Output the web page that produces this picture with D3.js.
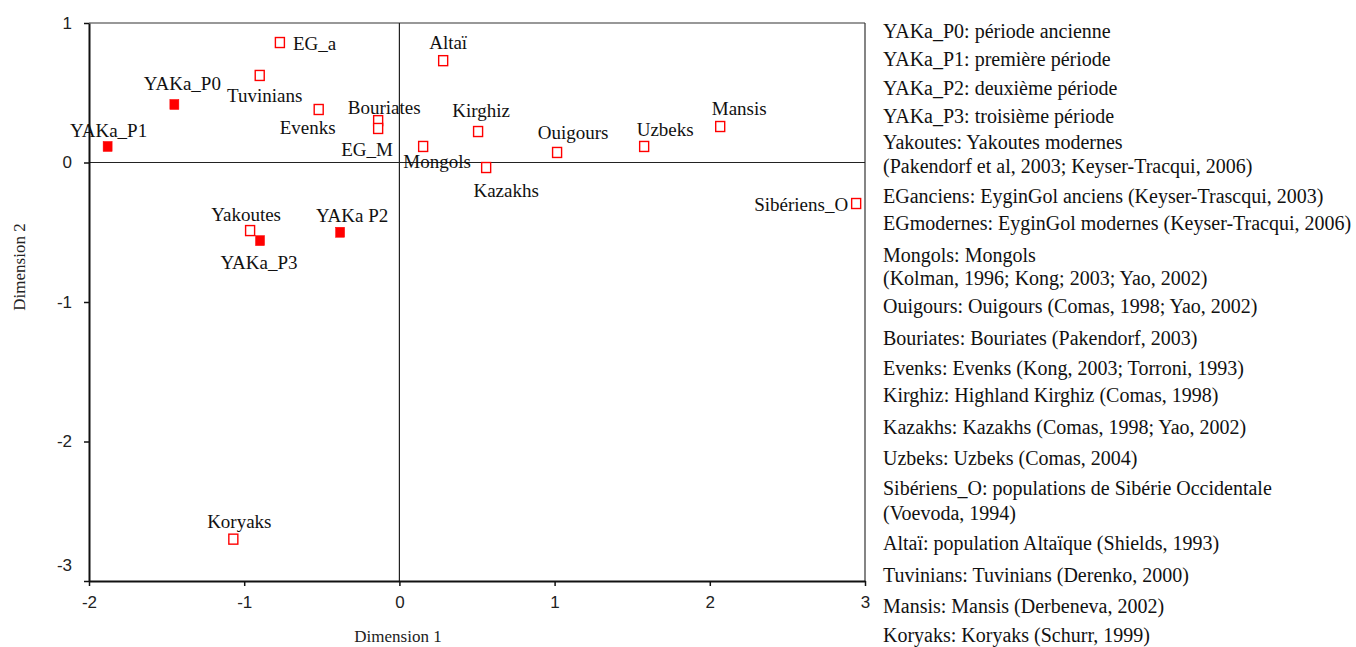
<!DOCTYPE html>
<html>
<head>
<meta charset="utf-8">
<script src="https://cdn.jsdelivr.net/npm/d3@7"></script>
<style>
  html, body { margin: 0; padding: 0; background: #ffffff; }
  svg { display: block; }
</style>
</head>
<body>
<svg id="chart" width="1356" height="647"></svg>
<script>
// ---- data ----
const names = ["EG_a","Tuvinians","YAKa_P0","YAKa_P1","Evenks","Bouriates","EG_M","Mongols",
  "Yakoutes","YAKa_P3","YAKa_P2","Altaï","Kirghiz","Kazakhs","Ouigours","Uzbeks","Mansis","Sibériens_O","Koryaks"];
const labels = ["EG_a","Tuvinians","YAKa_P0","YAKa_P1","Evenks","Bouriates","EG_M","Mongols",
  "Yakoutes","YAKa_P3","YAKa P2","Altaï","Kirghiz","Kazakhs","Ouigours","Uzbeks","Mansis","Sibériens_O","Koryaks"];
const dim1 = [-0.77,-0.90,-1.45,-1.88,-0.52,-0.137,-0.137,0.153,-0.962,-0.898,-0.382,0.282,0.507,0.559,1.016,1.577,2.067,2.943,-1.07];
const dim2 = [0.86,0.624,0.416,0.115,0.38,0.30,0.244,0.115,-0.488,-0.56,-0.50,0.73,0.222,-0.036,0.072,0.115,0.258,-0.294,-2.70];
const ancient = [false,false,true,true,false,false,false,false,false,true,true,false,false,false,false,false,false,false,false];
const xTicks = [-2,-1,0,1,2,3];
const yTicks = [-3,-2,-1,0,1];
const legendLines = [
  "YAKa_P0: période ancienne",
  "YAKa_P1: première période",
  "YAKa_P2: deuxième période",
  "YAKa_P3: troisième période",
  "Yakoutes: Yakoutes modernes",
  "(Pakendorf et al, 2003; Keyser-Tracqui, 2006)",
  "EGanciens: EyginGol anciens (Keyser-Trascqui, 2003)",
  "EGmodernes: EyginGol modernes (Keyser-Tracqui, 2006)",
  "Mongols: Mongols",
  "(Kolman, 1996; Kong; 2003; Yao, 2002)",
  "Ouigours: Ouigours (Comas, 1998; Yao, 2002)",
  "Bouriates: Bouriates (Pakendorf, 2003)",
  "Evenks: Evenks (Kong, 2003; Torroni, 1993)",
  "Kirghiz: Highland Kirghiz (Comas, 1998)",
  "Kazakhs: Kazakhs (Comas, 1998; Yao, 2002)",
  "Uzbeks: Uzbeks (Comas, 2004)",
  "Sibériens_O: populations de Sibérie Occidentale",
  "(Voevoda, 1994)",
  "Altaï: population Altaïque (Shields, 1993)",
  "Tuvinians: Tuvinians (Derenko, 2000)",
  "Mansis: Mansis (Derbeneva, 2002)",
  "Koryaks: Koryaks (Schurr, 1999)"
];

// ---- layout (not data) ----
const labelOffset = { // dx, dy, anchor
  "EG_a":[13,1,"start"], "Tuvinians":[5,20,"middle"], "YAKa_P0":[8,-21,"middle"], "YAKa_P1":[1,-16,"middle"],
  "Evenks":[-11,18,"middle"], "Bouriates":[6,-13,"middle"], "EG_M":[-11,21,"middle"], "Mongols":[14,15,"middle"],
  "Yakoutes":[-4,-16,"middle"], "YAKa_P3":[-1,22,"middle"], "YAKa_P2":[12,-17,"middle"], "Altaï":[5,-18,"middle"],
  "Kirghiz":[3,-21,"middle"], "Kazakhs":[20,23,"middle"], "Ouigours":[16,-20,"middle"], "Uzbeks":[21,-17,"middle"],
  "Mansis":[19,-18,"middle"], "Sibériens_O":[-8,1,"end"], "Koryaks":[6,-18,"middle"]
};
const legendY = [31,59,88,116,142,166,196,223,255,278,306,338,368,395,427,458,488,513,543,575,606,635];

const svg = d3.select("#chart");
const pLeft = 89, pRight = 865, pTop = 23, pBottom = 581;
const x = d3.scaleLinear().domain([-2,3]).range([pLeft,pRight]);
const y = d3.scaleLinear().domain([-3,1]).range([pBottom,pTop]);

const serif = "'Liberation Serif','Times New Roman',serif";
const sans = "'Liberation Sans',Arial,sans-serif";

// frame (top & right)
svg.append("line").attr("x1",pLeft).attr("x2",pRight).attr("y1",pTop).attr("y2",pTop).attr("stroke","#333").attr("stroke-width",1.2);
svg.append("line").attr("x1",pRight).attr("x2",pRight).attr("y1",pTop).attr("y2",pBottom).attr("stroke","#333").attr("stroke-width",1.2);
// zero lines
svg.append("line").attr("x1",x(0)).attr("x2",x(0)).attr("y1",pTop).attr("y2",pBottom).attr("stroke","#222").attr("stroke-width",1.2);
svg.append("line").attr("x1",pLeft).attr("x2",pRight).attr("y1",y(0)).attr("y2",y(0)).attr("stroke","#222").attr("stroke-width",1.2);

// axes
const fmt = d => String(d);
const xAxis = svg.append("g").attr("transform",`translate(0,${pBottom})`)
  .call(d3.axisBottom(x).tickValues(xTicks).tickSize(5).tickSizeOuter(0).tickPadding(8).tickFormat(fmt));
const yAxis = svg.append("g").attr("transform",`translate(${pLeft},0)`)
  .call(d3.axisLeft(y).tickValues(yTicks).tickSize(5).tickSizeOuter(0).tickPadding(12).tickFormat(fmt));
[xAxis,yAxis].forEach(a=>{
  a.selectAll("path.domain").attr("stroke","#111").attr("stroke-width",2);
  a.selectAll(".tick line").attr("stroke","#111").attr("stroke-width",1.5);
  a.selectAll(".tick text").attr("font-family",sans).attr("font-size",17).attr("fill","#222");
});
yAxis.selectAll(".tick text").filter(d=>d===-3).attr("dy","-0.6em");
xAxis.selectAll(".tick text").attr("dy","0.85em");

// axis titles
svg.append("text").attr("x",398).attr("y",642).attr("text-anchor","middle")
  .attr("font-family",serif).attr("font-size",17).attr("fill","#222").text("Dimension 1");
svg.append("text").attr("transform","translate(25,267) rotate(-90)").attr("text-anchor","middle")
  .attr("font-family",serif).attr("font-size",17).attr("fill","#222").text("Dimension 2");

// points
const pts = names.map((n,i)=>({name:n,label:labels[i],x:dim1[i],y:dim2[i],filled:ancient[i]}));
const mw = 9, mh = 10;
svg.append("g").selectAll("rect").data(pts).join("rect")
  .attr("x",d=>x(d.x)-mw/2).attr("y",d=>y(d.y)-mh/2).attr("width",mw).attr("height",mh)
  .attr("fill",d=>d.filled?"#ff0000":"#ffffff")
  .attr("stroke","#ff0000").attr("stroke-width",d=>d.filled?0.5:1.4);

svg.append("g").selectAll("text").data(pts).join("text")
  .attr("x",d=>x(d.x)+labelOffset[d.name][0])
  .attr("y",d=>y(d.y)+labelOffset[d.name][1])
  .attr("text-anchor",d=>labelOffset[d.name][2])
  .attr("dominant-baseline","central")
  .attr("font-family",serif).attr("font-size",19).attr("fill","#111")
  .text(d=>d.label);

// legend
svg.append("g").selectAll("text").data(legendLines).join("text")
  .attr("x",883).attr("y",(d,i)=>legendY[i])
  .attr("dominant-baseline","central")
  .attr("font-family",serif).attr("font-size",20).attr("fill","#111")
  .text(d=>d);
</script>
</body>
</html>
